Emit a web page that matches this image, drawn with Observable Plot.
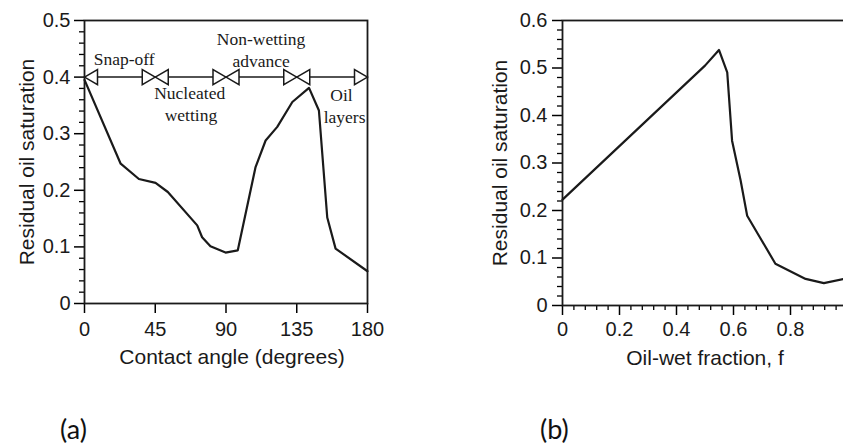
<!DOCTYPE html>
<html><head><meta charset="utf-8">
<script src="https://cdn.jsdelivr.net/npm/d3@7"></script>
<script src="https://cdn.jsdelivr.net/npm/@observablehq/plot@0.6"></script>
<style>
html,body{margin:0;padding:0;background:#fff;overflow:hidden;width:843px;height:446px}
#wrap{position:relative;width:843px;height:446px;overflow:hidden;background:#fff}
.panel{position:absolute;top:0;height:380px}
#wrap svg{max-width:none !important;overflow:visible;font-family:'Liberation Sans',Arial,sans-serif !important;font-size:20px !important}
.cap{position:absolute;font-family:Lato,"Open Sans",sans-serif;font-size:27px;color:#111;line-height:1}
</style></head><body><div id="wrap">
<div id="pa" class="panel" style="left:0;width:420px"></div>
<div id="pb" class="panel" style="left:420px;width:440px"></div>
<div class="cap" style="left:60px;top:415px">(a)</div>
<div class="cap" style="left:540px;top:415px">(b)</div>
</div>
<script>
// ---- Panel (a) data ----
const angleDeg  = [0, 23, 34.6, 45.2, 53, 71.7, 74.8, 80.1, 89.7, 97.5, 108.8, 115.2, 122.6, 132.2, 142.8, 149.1, 154.4, 159.7, 180];
const residualA = [0.395, 0.247, 0.220, 0.213, 0.197, 0.138, 0.117, 0.101, 0.090, 0.094, 0.241, 0.288, 0.312, 0.356, 0.381, 0.341, 0.152, 0.097, 0.057];
const xTicksA = [0, 45, 90, 135, 180];
const yTicksA = [0, 0.1, 0.2, 0.3, 0.4, 0.5];
const yMinorA = [0.02,0.04,0.06,0.08,0.12,0.14,0.16,0.18,0.22,0.24,0.26,0.28,0.32,0.34,0.36,0.38,0.42,0.44,0.46,0.48];
const markerLevel = 0.4;
const leftTips  = [0, 45, 90, 135];
const rightTips = [45, 90, 135, 180];
const regimeText = ["Snap-off", "Nucleated", "wetting", "Non-wetting", "advance", "Oil", "layers"];
const regimeX    = [25.2, 66.9, 67.7, 112.3, 112.3, 163.5, 165.4];
const regimeY    = [0.4305, 0.3716, 0.332, 0.466, 0.4276, 0.3675, 0.3293];

// ---- Panel (b) data ----
const oilWetFraction = [0, 0.5, 0.549, 0.578, 0.595, 0.625, 0.648, 0.747, 0.853, 0.917, 0.986, 1.0];
const residualB      = [0.223, 0.505, 0.538, 0.491, 0.347, 0.263, 0.189, 0.088, 0.056, 0.047, 0.056, 0.058];
const xTicksB = [0, 0.2, 0.4, 0.6, 0.8];
const xMinorB = [0.04,0.08,0.12,0.16,0.24,0.28,0.32,0.36,0.44,0.48,0.52,0.56,0.64,0.68,0.72,0.76,0.84,0.88,0.92,0.96];
const yTicksB = [0, 0.1, 0.2, 0.3, 0.4, 0.5, 0.6];
const yMinorB = [0.02,0.04,0.06,0.08,0.12,0.14,0.16,0.18,0.22,0.24,0.26,0.28,0.32,0.34,0.36,0.38,0.42,0.44,0.46,0.48,0.52,0.54,0.56,0.58];

const ink = "#1a1a1a";
const sans = "'Liberation Sans', Arial, sans-serif";
const serif = "'Liberation Serif', 'Times New Roman', serif";
const fmt = d => `${d}`;
const triRight = {draw(ctx){ ctx.moveTo(0,0); ctx.lineTo(-13,-7.5); ctx.lineTo(-13,7.5); ctx.closePath(); }};
const triLeft  = {draw(ctx){ ctx.moveTo(0,0); ctx.lineTo(13,-7.5);  ctx.lineTo(13,7.5);  ctx.closePath(); }};

const rowsA = angleDeg.map((x, i) => ({x, y: residualA[i]}));
const notes = regimeText.map((t, i) => ({t, x: regimeX[i], y: regimeY[i]}));

const plotA = Plot.plot({
  width: 420, height: 380,
  marginLeft: 84, marginRight: 53, marginTop: 20, marginBottom: 77,
  style: {background: "white"},
  x: {domain: [0, 180]},
  y: {domain: [0, 0.5]},
  marks: [
    Plot.axisY(yMinorA, {tickSize: 5, text: null, strokeWidth: 1.3, label: null}),
    Plot.axisY(yTicksA, {tickSize: 10, tickPadding: 4, tickFormat: fmt, strokeWidth: 1.5, label: null, fontFamily: sans, fontSize: 20, fill: ink}),
    Plot.axisX(xTicksA, {tickSize: 10, tickPadding: 8, tickFormat: fmt, strokeWidth: 1.5, label: null, fontFamily: sans, fontSize: 20, fill: ink}),
    Plot.frame({stroke: ink, strokeWidth: 1.8}),
    Plot.line(rowsA, {x: "x", y: "y", stroke: ink, strokeWidth: 2.2}),
    Plot.ruleY([{y: markerLevel, x1: xTicksA[0], x2: xTicksA[xTicksA.length - 1]}], {y: "y", x1: "x1", x2: "x2", stroke: ink, strokeWidth: 1.5}),
    Plot.dot(leftTips.map(x => ({x, y: markerLevel})), {x: "x", y: "y", symbol: triLeft, fill: "white", stroke: ink, strokeWidth: 1.5}),
    Plot.dot(rightTips.map(x => ({x, y: markerLevel})), {x: "x", y: "y", symbol: triRight, fill: "white", stroke: ink, strokeWidth: 1.5}),
    Plot.text(notes, {x: "x", y: "y", text: "t", fontFamily: serif, fontSize: 17.5, fill: ink}),
    Plot.text(["Residual oil saturation"], {frameAnchor: "left", text: d => d, rotate: -90, textAnchor: "middle", lineAnchor: "middle", dx: -57, fontFamily: sans, fontSize: 21, fill: ink}),
    Plot.text(["Contact angle (degrees)"], {frameAnchor: "bottom", text: d => d, textAnchor: "middle", lineAnchor: "middle", dx: 6, dy: 54, fontFamily: sans, fontSize: 21, fill: ink})
  ]
});
document.getElementById("pa").appendChild(plotA);

const rowsB = oilWetFraction.map((x, i) => ({x, y: residualB[i]}));
const plotB = Plot.plot({
  width: 440, height: 380,
  marginLeft: 142, marginRight: 13, marginTop: 20, marginBottom: 75,
  style: {background: "white"},
  x: {domain: [0, 1]},
  y: {domain: [0, 0.6]},
  marks: [
    Plot.axisY(yMinorB, {tickSize: 5, text: null, strokeWidth: 1.3, label: null}),
    Plot.axisY(yTicksB, {tickSize: 10, tickPadding: 5, tickFormat: fmt, strokeWidth: 1.5, label: null, fontFamily: sans, fontSize: 20, fill: ink}),
    Plot.axisX(xMinorB, {tickSize: 5, text: null, strokeWidth: 1.3, label: null}),
    Plot.axisX(xTicksB, {tickSize: 10, tickPadding: 6, tickFormat: fmt, strokeWidth: 1.5, label: null, fontFamily: sans, fontSize: 20, fill: ink}),
    Plot.frame({stroke: ink, strokeWidth: 1.8}),
    Plot.line(rowsB, {x: "x", y: "y", stroke: ink, strokeWidth: 2.2}),
    Plot.text(["Residual oil saturation"], {frameAnchor: "left", text: d => d, rotate: -90, textAnchor: "middle", lineAnchor: "middle", dx: -62, fontFamily: sans, fontSize: 21, fill: ink}),
    Plot.text(["Oil-wet fraction, f"], {frameAnchor: "bottom", text: d => d, textAnchor: "middle", lineAnchor: "middle", dx: 0, dy: 53, fontFamily: sans, fontSize: 21, fill: ink})
  ]
});
document.getElementById("pb").appendChild(plotB);
</script>
</body></html>
